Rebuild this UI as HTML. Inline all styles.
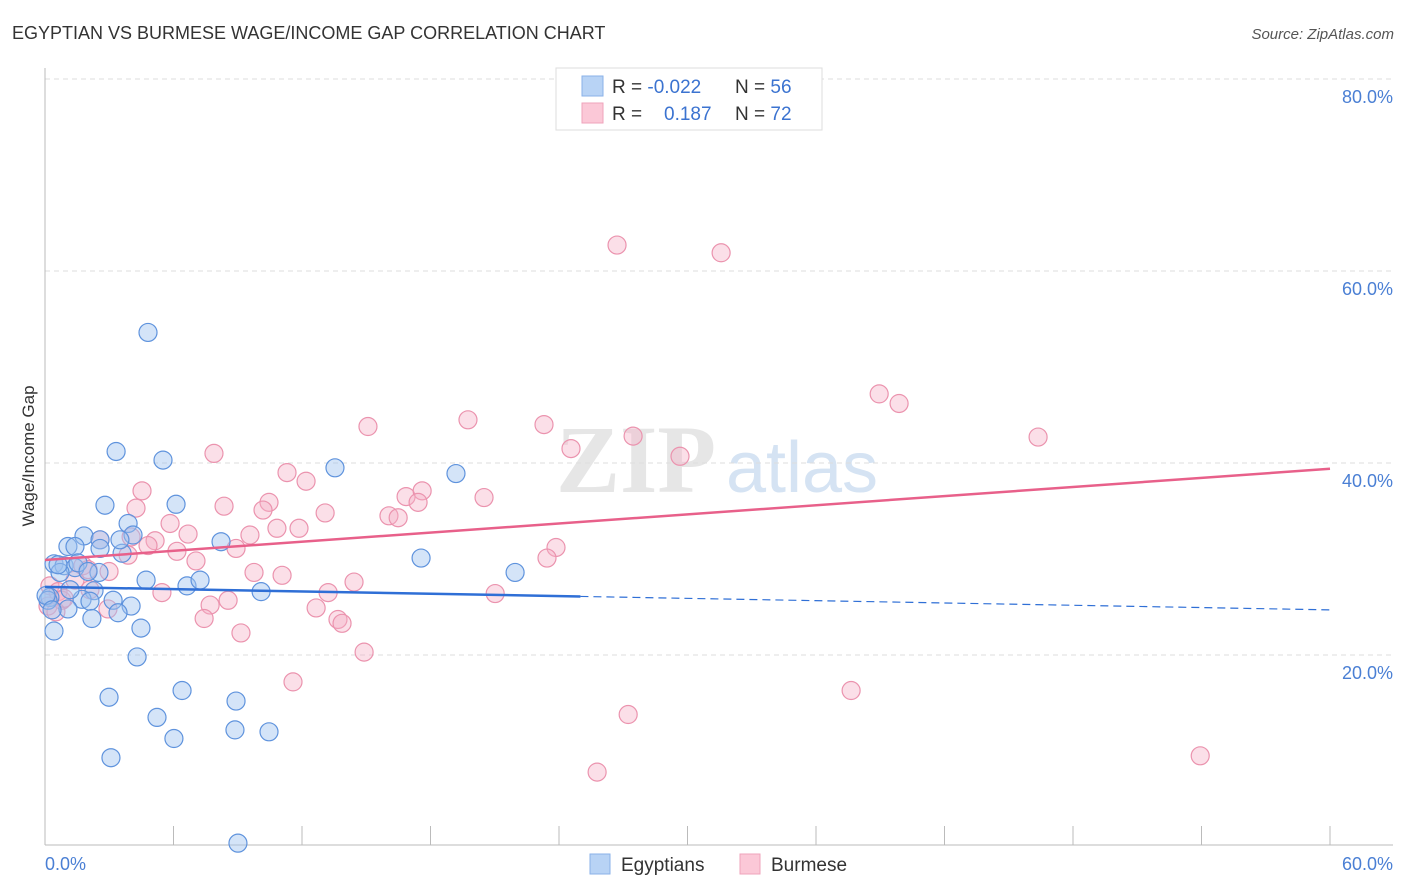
<!DOCTYPE html>
<html><head><meta charset="utf-8"><style>
body{margin:0;background:#fff;font-family:"Liberation Sans",sans-serif;}
svg{display:block}
</style></head><body>
<svg id="chart" width="1406" height="892" viewBox="0 0 1406 892" xmlns="http://www.w3.org/2000/svg">
<text x="12" y="39" font-size="18" fill="#333">EGYPTIAN VS BURMESE WAGE/INCOME GAP CORRELATION CHART</text>
<text x="1394" y="39" font-size="15" fill="#555" font-style="italic" text-anchor="end">Source: ZipAtlas.com</text>
<g font-size="96" text-anchor="middle">
<text x="636" y="492" fill="#e6e6e6" font-family="Liberation Serif, serif" font-weight="bold">ZIP</text>
<text x="802" y="492" fill="#d5e3f3" font-size="72">atlas</text>
</g>
<g id="grid"></g>
<line x1="45" y1="68" x2="45" y2="845" stroke="#bbb"/>
<line x1="45" y1="845" x2="1393" y2="845" stroke="#bbb"/>
<g id="xticks"></g>
<text transform="translate(34,456) rotate(-90)" font-size="17" fill="#333" text-anchor="middle">Wage/Income Gap</text>
<text x="45" y="870" font-size="18" fill="#4a7fd4">0.0%</text>
<text x="1393" y="870" font-size="18" fill="#4a7fd4" text-anchor="end">60.0%</text>
<g id="points"></g>
<g id="trends"></g>
<g>
<rect x="556" y="68" width="266" height="62" fill="#fff" stroke="#ddd"/>
<rect x="582" y="76" width="21" height="20" fill="#b8d3f5" stroke="#8ab2e8"/>
<rect x="582" y="103" width="21" height="20" fill="#fbc8d7" stroke="#efa3bb"/>
<text x="612" y="93" font-size="19" fill="#333">R = <tspan fill="#3b73d0">-0.022</tspan></text>
<text x="735" y="93" font-size="19" fill="#333">N = <tspan fill="#3b73d0">56</tspan></text>
<text x="612" y="120" font-size="19" fill="#333">R = <tspan fill="#3b73d0" x="664">0.187</tspan></text>
<text x="735" y="120" font-size="19" fill="#333">N = <tspan fill="#3b73d0">72</tspan></text>
</g>
<g>
<rect x="590" y="854" width="20" height="20" fill="#b8d3f5" stroke="#8ab2e8"/>
<text x="621" y="871" font-size="19" fill="#333">Egyptians</text>
<rect x="740" y="854" width="20" height="20" fill="#fbc8d7" stroke="#efa3bb"/>
<text x="771" y="871" font-size="19" fill="#333">Burmese</text>
</g>
</svg>
<script>
const yTicks=[20,40,60,80];
const yTickLabels=["20.0%","40.0%","60.0%","80.0%"];
const xTicks=[0,6,12,18,24,30,36,42,48,54,60];
const egyptX=[4.81,3.32,5.51,13.54,19.19,2.80,6.12,3.88,4.11,1.82,2.57,1.07,1.40,8.22,3.60,2.57,0.42,0.89,1.40,0.70,2.52,4.72,6.63,7.24,17.56,21.95,10.09,2.29,1.73,2.10,3.18,4.02,0.23,1.07,2.19,3.41,4.48,0.42,4.30,2.99,6.40,5.23,8.92,6.02,8.87,10.46,3.08,9.01,0.14,0.61,1.17,0.05,1.54,3.50,2.01,0.33];
const egyptY=[53.6,41.2,40.3,39.5,38.9,35.6,35.7,33.7,32.5,32.4,32.0,31.3,31.3,31.8,30.6,31.1,29.5,29.3,29.1,28.6,28.6,27.8,27.2,27.8,30.1,28.6,26.6,26.7,25.8,25.6,25.7,25.1,26.0,24.8,23.8,24.4,22.8,22.5,19.8,15.6,16.3,13.5,15.2,11.3,12.2,12.0,9.3,0.4,25.7,29.4,26.8,26.2,29.6,32.0,28.7,24.7];
const burmX=[26.71,31.57,38.95,39.88,46.37,19.75,23.30,15.08,27.46,24.56,29.65,7.89,11.30,12.19,4.53,16.86,17.61,20.50,10.46,8.36,4.25,10.18,13.08,16.06,16.49,17.42,5.84,10.83,11.86,6.68,9.57,4.02,2.57,5.14,4.81,8.92,6.16,23.86,3.88,23.44,7.05,1.77,2.01,2.99,9.76,11.07,14.43,5.46,13.22,21.02,7.71,8.55,12.66,2.94,7.43,13.68,13.87,9.15,14.90,11.58,37.64,27.23,25.78,53.94,0.23,0.61,0.14,0.79,1.40,2.10,0.51,0.89];
const burmY=[62.7,61.9,47.2,46.2,42.7,44.5,44.0,43.8,42.8,41.5,40.7,41.0,39.0,38.1,37.1,36.5,37.1,36.4,35.9,35.5,35.3,35.1,34.8,34.5,34.3,35.9,33.7,33.2,33.2,32.6,32.5,32.3,32.0,31.9,31.4,31.1,30.8,31.2,30.4,30.1,29.8,29.3,28.9,28.7,28.6,28.3,27.6,26.5,26.5,26.4,25.2,25.7,24.9,24.8,23.8,23.7,23.3,22.3,20.3,17.2,16.3,13.8,7.8,9.5,27.2,26.6,25.1,25.7,27.8,26.8,24.5,25.9];
const egyptTrend=[27.1,24.7]; // value at x=0 and x=60
const burmTrend=[29.9,39.4];
const egyptSolidEnd=25;

const NS="http://www.w3.org/2000/svg";
const sx=v=>45+v*(1285/60);
const sy=v=>847-v*9.6;
function mk(tag,attrs,parent){const e=document.createElementNS(NS,tag);for(const k in attrs)e.setAttribute(k,attrs[k]);parent.appendChild(e);return e;}
const grid=document.getElementById('grid');
yTicks.forEach((t,i)=>{
  const l=mk('line',{x1:45,x2:1393,y1:sy(t),y2:sy(t),stroke:'#ddd','stroke-dasharray':'5,4'},grid);
  
  
  const tx=mk('text',{x:1393,y:sy(t)+24,'font-size':18,fill:'#4a7fd4','text-anchor':'end'},grid);
  tx.textContent=yTickLabels[i];
  
  
});
const xt=document.getElementById('xticks');
xTicks.forEach(t=>{
  const l=mk('line',{x1:sx(t),x2:sx(t),y1:826,y2:845,stroke:'#bbb'},xt);
  
  
});
const pts=document.getElementById('points');
burmX.forEach((x,i)=>{
  const c=mk('circle',{cx:sx(x),cy:sy(burmY[i]),r:9,fill:'rgba(246,176,198,0.4)',stroke:'#eb93ae','stroke-width':1.2},pts);
  
  
});
egyptX.forEach((x,i)=>{
  const c=mk('circle',{cx:sx(x),cy:sy(egyptY[i]),r:9,fill:'rgba(160,196,240,0.45)',stroke:'#5f93dd','stroke-width':1.2},pts);
  
  
});
const tr=document.getElementById('trends');
const ey=x=>egyptTrend[0]+(egyptTrend[1]-egyptTrend[0])*x/60;
let l1=mk('line',{x1:sx(0),y1:sy(ey(0)),x2:sx(egyptSolidEnd),y2:sy(ey(egyptSolidEnd)),stroke:'#2f6fd6','stroke-width':2.5},tr);


let l2=mk('line',{x1:sx(egyptSolidEnd),y1:sy(ey(egyptSolidEnd)),x2:sx(60),y2:sy(ey(60)),stroke:'#2f6fd6','stroke-width':1.2,'stroke-dasharray':'8,5'},tr);


let l3=mk('line',{x1:sx(0),y1:sy(burmTrend[0]),x2:sx(60),y2:sy(burmTrend[1]),stroke:'#e8608a','stroke-width':2.5},tr);


</script>
</body></html>
